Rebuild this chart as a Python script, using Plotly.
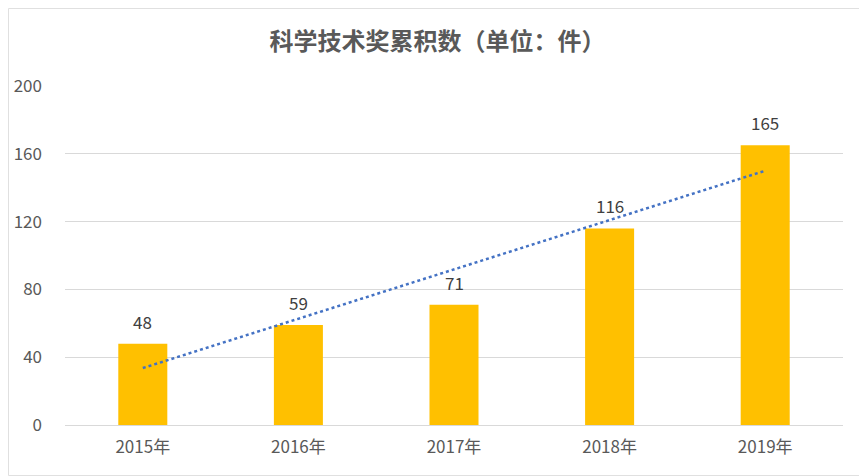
# 科学技术奖累积数 柱状图 + 线性趋势线
import numpy as np
import plotly.graph_objects as go

years = ["2015年", "2016年", "2017年", "2018年", "2019年"]
counts = [48, 59, 71, 116, 165]

# 线性趋势线（最小二乘拟合，同 Excel）
idx = np.arange(1, len(counts) + 1)
slope, intercept = np.polyfit(idx, counts, 1)
trend = slope * idx + intercept

font_cn = "Noto Sans CJK SC"
W, H = 859, 468
ml, mr, mt, mb = 57, 24, 78, 51
pw, ph = W - ml - mr, H - mt - mb

fig = go.Figure()

fig.add_trace(go.Bar(
    x=years, y=counts,
    width=0.315,
    marker=dict(color="#FFC000", line=dict(width=0)),
    showlegend=False))

fig.add_trace(go.Scatter(
    x=years, y=trend,
    mode="lines",
    line=dict(color="#4472C4", width=2.5, dash="dot"),
    showlegend=False,
    hoverinfo="skip"))

# 数据标签
for yr, v in zip(years, counts):
    fig.add_annotation(x=yr, y=v, text=str(v), showarrow=False,
                       yanchor="bottom", yshift=8,
                       font=dict(family=font_cn, size=17, color="#404040"))

fig.update_layout(
    width=W, height=H,
    paper_bgcolor="white", plot_bgcolor="white",
    margin=dict(l=ml, r=mr, t=mt, b=mb),
    title=dict(text="<b>科学技术奖累积数（单位：件）</b>",
               x=0.5, xanchor="center", y=1 - 34 / H, yanchor="middle",
               font=dict(family=font_cn, size=24, color="#595959")),
    xaxis=dict(showgrid=False, showline=True, linecolor="#d9d9d9", linewidth=1,
               ticks="", ticklabelstandoff=7, automargin=False,
               tickfont=dict(family=font_cn, size=17, color="#595959")),
    yaxis=dict(range=[0, 200], dtick=40, showgrid=True, gridcolor="#d9d9d9",
               gridwidth=1, zeroline=False, ticks="", ticklabelstandoff=22,
               automargin=False,
               tickfont=dict(family=font_cn, size=17, color="#595959")),
    shapes=[dict(type="rect", xref="paper", yref="paper",
                 x0=-(ml - 0.5) / pw, x1=1 + (mr - 0.5) / pw,
                 y0=-(mb - 0.5) / ph, y1=1 + (mt - 0.5) / ph,
                 line=dict(color="#e0e0e0", width=1))],
)

fig.write_html("out.html")
